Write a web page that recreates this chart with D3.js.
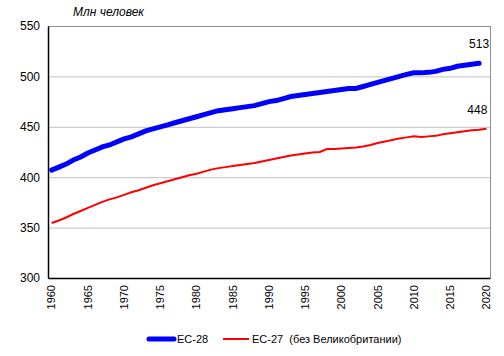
<!DOCTYPE html>
<html><head><meta charset="utf-8">
<script src="https://cdn.jsdelivr.net/npm/d3@7"></script>
<style>body{margin:0;background:#fff}svg{display:block}text{font-family:"Liberation Sans",Arial,sans-serif}</style>
</head><body><svg id="c" width="504" height="356"></svg>
<script>
const years = d3.range(1960, 2021);
const eu28 = [407,410,413,417,420,424,427,430,432,435,438,440,443,446,448,450,452,454,456,458,460,462,464,466,467,468,469,470,471,473,475,476,478,480,481,482,483,484,485,486,487,488,488,490,492,494,496,498,500,502,503.5,503.5,504,505,507,508,510,511,512,513];
const eu27 = [354.5,357,360,363.5,366.5,369.5,372.5,375.5,378,380,382.5,385,387,389.5,392,394,396,398,400,402,403.5,405.5,407.5,409,410,411,412,413,414,415.5,417,418.5,420,421.5,422.5,423.5,424.5,425,428,428,428.5,429,429.5,430.5,432,434,435.5,437,438.5,439.5,440.5,440,440.5,441,442.5,443.5,444.5,445.5,446.5,447,448];
const yTicks = [300,350,400,450,500,550];
const xTickYears = d3.range(1960, 2021, 5);
const seriesNames = ["ЕС-28","ЕС-27  (без Великобритании)"];
const endLabels = ["513","448"];

const svg = d3.select("#c");
const L=48, R=490, T=26, B=278;
const x = d3.scaleBand().domain(years).range([L,R]);
const y = d3.scaleLinear().domain([300,550]).range([B,T]);
const cx = d => x(d)+x.bandwidth()/2;

// gridlines
svg.append("g").selectAll("line").data(yTicks.filter(v=>v>300)).join("line")
  .attr("x1",L).attr("x2",R).attr("y1",d=>y(d)+0.5).attr("y2",d=>y(d)+0.5)
  .attr("stroke","#c0c0c0").attr("stroke-width",1);
// right/top border
svg.append("line").attr("x1",R+0.5).attr("x2",R+0.5).attr("y1",T).attr("y2",B).attr("stroke","#909090");
svg.append("line").attr("x1",L).attr("x2",R).attr("y1",T+0.5).attr("y2",T+0.5).attr("stroke","#909090");

// y axis
const ya = svg.append("g").attr("transform",`translate(${L},0)`)
  .call(d3.axisLeft(y).tickValues(yTicks).tickSize(0).tickPadding(8));
ya.select(".domain").attr("stroke","#000").attr("stroke-width",1.5);
ya.selectAll("text").attr("font-size",12).attr("fill","#000").attr("font-family","Liberation Sans, Arial");

// x axis
const xa = svg.append("g").attr("transform",`translate(0,${B})`)
  .call(d3.axisBottom(x).tickValues(xTickYears).tickSize(0).tickSizeOuter(0));
xa.select(".domain").attr("stroke","#000").attr("stroke-width",1.5);
xa.selectAll("text").attr("font-size",11).attr("fill","#000").attr("font-family","Liberation Sans, Arial")
  .attr("transform","rotate(-90)").attr("text-anchor","end").attr("x",-7).attr("y",0).attr("dy","0.35em");

// lines
const line = d3.line().x((d,i)=>cx(years[i])).y(d=>y(d));
svg.append("path").datum(eu27).attr("d",line).attr("fill","none").attr("stroke","#ff0000").attr("stroke-width",2);
svg.append("path").datum(eu28).attr("d",line).attr("fill","none").attr("stroke","#0000ff").attr("stroke-width",5).attr("stroke-linecap","round");

// end labels
svg.append("text").attr("x",cx(years[eu28.length-1])+10).attr("y",y(eu28[eu28.length-1])-15)
  .attr("text-anchor","end").attr("font-size",12).text(endLabels[0]);
svg.append("text").attr("x",cx(years[eu27.length-1])+1).attr("y",y(eu27[eu27.length-1])-15)
  .attr("text-anchor","end").attr("font-size",12).text(endLabels[1]);

// title
svg.append("text").attr("x",73).attr("y",16).attr("font-size",12).attr("font-style","italic").text("Млн человек");

// legend
const lg = svg.append("g");
lg.append("line").attr("x1",149).attr("x2",174).attr("y1",339).attr("y2",339).attr("stroke","#0000ff").attr("stroke-width",5).attr("stroke-linecap","round");
lg.append("text").attr("x",177).attr("y",343).attr("font-size",11).text(seriesNames[0]);
lg.append("line").attr("x1",223).attr("x2",249).attr("y1",339).attr("y2",339).attr("stroke","#ff0000").attr("stroke-width",2);
lg.append("text").attr("x",252).attr("y",343).attr("font-size",11).style("white-space","pre").text(seriesNames[1]);
</script></body></html>
